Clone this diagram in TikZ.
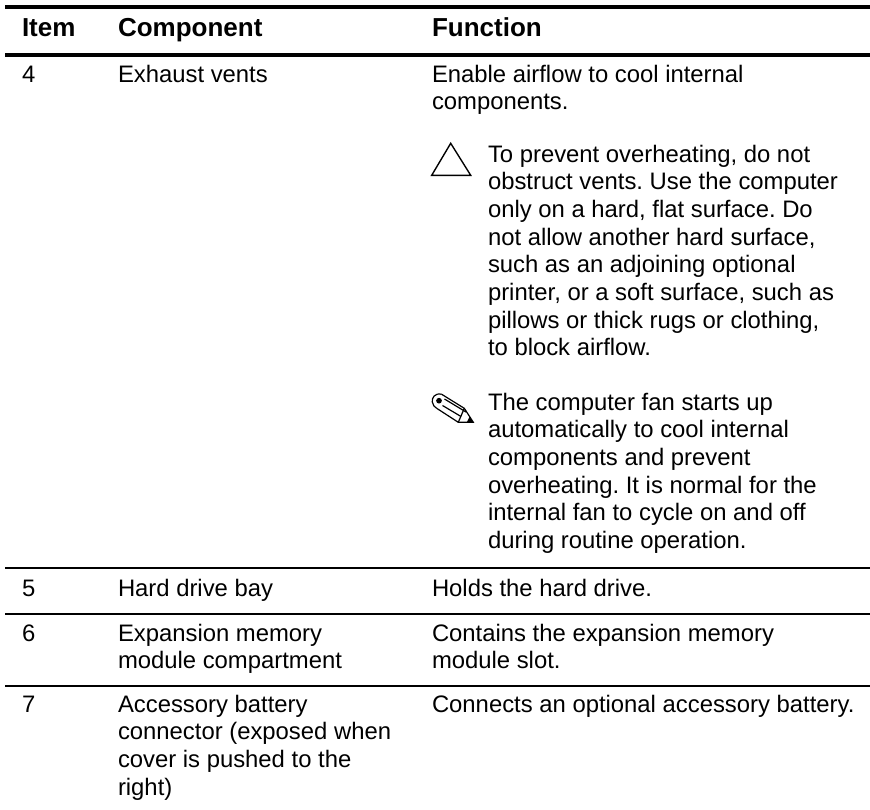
\documentclass[tikz,border=0pt]{standalone}
\usepackage{fontspec}
\setmainfont{Liberation Sans}
\frenchspacing
\tikzset{
  x=1pt,y=-1pt,
  cell/.style={anchor=north west,inner sep=0pt,outer sep=0pt,align=left,font=\fontsize{23.85}{27.7}\selectfont},
  head/.style={cell,font=\fontsize{26}{27.7}\selectfont\bfseries},
  thick rule/.style={line width=3.2pt,black},
  thin rule/.style={line width=1.1pt,black},
  icon/.style={line width=1.2pt,black,line join=miter}
}
\newcommand{\fs}{\rule{0pt}{20pt}}
\begin{document}
\begin{tikzpicture}
\useasboundingbox (0,0) rectangle (870,809);
\coordinate (l1) at (5,7); \coordinate (r1) at (870,7);
\coordinate (l2) at (5,55); \coordinate (r2) at (870,55);
\coordinate (l3) at (5,568); \coordinate (r3) at (870,568);
\coordinate (l4) at (5,614); \coordinate (r4) at (870,614);
\coordinate (l5) at (5,686); \coordinate (r5) at (870,686);
\draw[thick rule] (l1) -- (r1);
\draw[thick rule] (l2) -- (r2);
\draw[thin rule] (l3) -- (r3);
\draw[thin rule] (l4) -- (r4);
\draw[thin rule] (l5) -- (r5);
\node[head] (hitem) at (22,16) {\fs Item};
\node[head] (hcomp) at (118,16) {\fs Component};
\node[head] (hfunc) at (432,16) {\fs Function};
\node[cell] (i4) at (22,62) {\fs 4};
\node[cell] (c4) at (118,62) {\fs Exhaust vents};
\node[cell] (f4) at (432,62) {\fs Enable airflow to cool internal\\components.};
\node[cell] (caution) at (488,142) {\fs To prevent overheating, do not\\obstruct vents. Use the computer\\only on a hard, flat surface. Do\\not allow another hard surface,\\such as an adjoining optional\\printer, or a soft surface, such as\\pillows or thick rugs or clothing,\\to block airflow.};
\node[cell] (note) at (488,390) {\fs The computer fan starts up\\automatically to cool internal\\components and prevent\\overheating. It is normal for the\\internal fan to cycle on and off\\during routine operation.};
\node[cell] (i5) at (22,576) {\fs 5};
\node[cell] (c5) at (118,576) {\fs Hard drive bay};
\node[cell] (f5) at (432,576) {\fs Holds the hard drive.};
\node[cell] (i6) at (22,621) {\fs 6};
\node[cell] (c6) at (118,621) {\fs Expansion memory\\module compartment};
\node[cell] (f6) at (432,621) {\fs Contains the expansion memory\\module slot.};
\node[cell] (i7) at (22,692) {\fs 7};
\node[cell] (c7) at (118,692) {\fs Accessory battery\\connector (exposed when\\cover is pushed to the\\right)};
\node[cell] (f7) at (432,692) {\fs Connects an optional accessory battery.};
\draw[icon,line width=1.4pt] (450.7,143.3) -- (470.7,175.3) -- (431.7,175.3) -- cycle;
\draw[icon] (441.7,394.3) -- (464.3,408.3) -- (473.3,422.3) -- (458.3,422.3) -- (436.7,408.3);
\draw[icon] (441.7,394.3) .. controls (435,392.5) and (431.5,398) .. (432.3,402) .. controls (432.8,405) and (434.5,407.3) .. (436.7,408.3);
\draw[icon] (464.3,408.3) -- (458.3,422.3);
\draw[icon] (444.5,399) -- (466,412);
\draw[icon] (442.5,405.5) -- (461,416.5);
\draw[icon,fill=black] (439,400.7) circle (2.2);
\fill (473.5,422.8) -- (466.5,422.8) -- (469.5,416.8) -- cycle;
\end{tikzpicture}
\end{document}
